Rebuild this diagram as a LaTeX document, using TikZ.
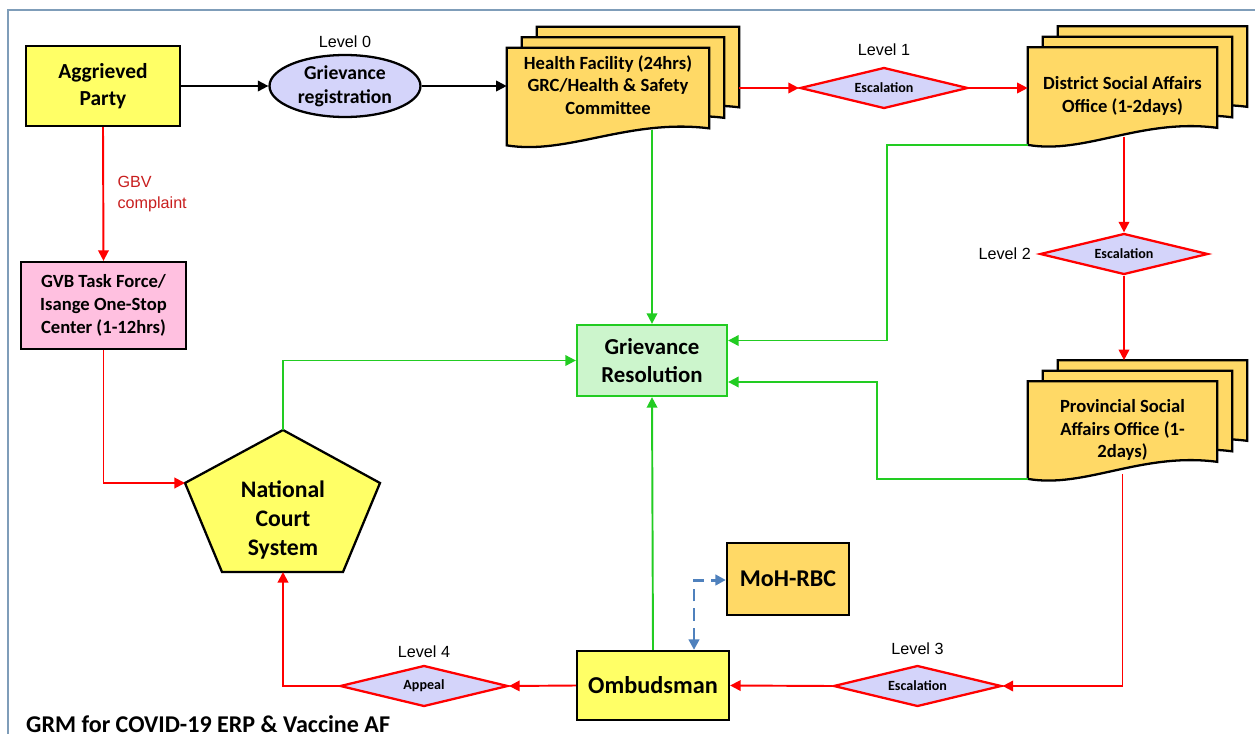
\documentclass[tikz,border=0pt]{standalone}
\usepackage{fontspec}
\setmainfont{Carlito}
\newfontfamily\arialfont{Liberation Sans}
\usetikzlibrary{calc,shapes.geometric,arrows.meta,backgrounds}

\definecolor{ylw}{HTML}{FFFF66}
\definecolor{docorange}{HTML}{FFD966}
\definecolor{lav}{HTML}{D4D4FA}
\definecolor{pnk}{HTML}{FFC0E0}
\definecolor{resfill}{HTML}{CCF5CC}
\definecolor{grn}{HTML}{22CC22}
\definecolor{gbvred}{HTML}{C81E1E}
\definecolor{dashblue}{HTML}{4F81BD}
\definecolor{framecol}{HTML}{7F9DB9}

\tikzset{
  nodeline/.style={draw=black, line width=1.3pt},
  ybox/.style={nodeline, fill=ylw, align=center, inner sep=0pt, font=\bfseries\fontsize{12.2}{15.3}\selectfont},
  pbox/.style={nodeline, fill=pnk, align=center, inner sep=0pt, minimum width=3.3cm, minimum height=1.74cm, font=\bfseries\fontsize{10.6}{13}\selectfont},
  obox/.style={nodeline, fill=docorange, align=center, inner sep=0pt, minimum width=2.44cm, minimum height=1.44cm, font=\bfseries\fontsize{13.7}{16}\selectfont},
  resbox/.style={draw=grn, line width=1.3pt, fill=resfill, align=center, inner sep=0pt, minimum width=3cm, minimum height=1.42cm, font=\bfseries\fontsize{13}{16}\selectfont},
  regell/.style={nodeline, ellipse, fill=lav, align=center, inner sep=0pt, minimum width=3.02cm, minimum height=1.24cm, font=\bfseries\fontsize{11.2}{13.5}\selectfont},
  esc/.style={diamond, aspect=4, draw=red, line width=1.3pt, fill=lav, inner sep=0pt, minimum width=3.36cm, minimum height=0.82cm, font=\bfseries\fontsize{8}{9}\selectfont},
  docnode/.style={inner sep=0pt, minimum height=1.94cm},
  doctext/.style={align=center, inner sep=0pt, font=\bfseries\fontsize{10.6}{13}\selectfont},
  docpage/.style={nodeline, fill=docorange},
  lvl/.style={font=\arialfont\fontsize{9.2}{12}\selectfont},
  kline/.style={->, draw=black, line width=1.1pt},
  rline/.style={->, draw=red, line width=1.1pt},
  gline/.style={->, draw=grn, line width=1.1pt},
  bline/.style={<->, draw=dashblue, line width=1.7pt, dash pattern=on 7pt off 4pt},
}

% one wavy sheet behind a document node
\newcommand{\docpage}[3]{%
  \draw[docpage] ($(#1.north west)+(#2,#3)$) -- ($(#1.north east)+(#2,#3)$)
    -- ($(#1.south east)+(#2,#3-17)$)
    .. controls ($(#1.south west)!0.6!(#1.south east)+(#2,#3-27)$)
    and ($(#1.south west)!0.3!(#1.south east)+(#2,#3+10)$)
    .. ($(#1.south west)+(#2,#3)$) -- cycle;}
\newcommand{\docstack}[1]{%
  \begin{scope}[on background layer]
    \foreach \dx/\dy in {30/-21,15/-10.5,0/0} {\docpage{#1}{\dx}{\dy}}
  \end{scope}}

\begin{document}
\begin{tikzpicture}[x=0.02cm, y=-0.02cm, >={Triangle[length=6pt,width=6pt]}]
  \useasboundingbox (0,0) rectangle (1255,734);
  \draw[framecol, line width=1pt] (8,740) -- (8,10) -- (1260,10);

  % top row
  \node[ybox, minimum width=3.08cm, minimum height=1.6cm] (ap) at (103,86) {Aggrieved\\Party};
  \node[regell] (reg) at (345,86) {Grievance\\registration};
  \node[lvl] (lvl0) at (345,42) {Level 0};
  \node[docnode, minimum width=4.04cm] (hf) at (608,96.5) {};
  \docstack{hf}
  \node[doctext] (hftext) at (608,85) {Health Facility (24hrs)\\GRC/Health \& Safety\\Committee};
  \node[esc] (l1) at (884,88) {Escalation};
  \node[lvl] (lvl1) at (884,50) {Level 1};
  \node[docnode, doctext, minimum width=3.78cm] (dso) at (1122.5,96) {District Social Affairs\\Office (1-2days)};
  \docstack{dso}

  % right column
  \node[esc] (l2) at (1124,254) {Escalation};
  \node[lvl, anchor=east] (lvl2) at (1037,254) {Level 2};
  \node[docnode, doctext, minimum width=3.78cm] (pso) at (1122.5,430) {Provincial Social\\Affairs Office (1-\\2days)};
  \docstack{pso}

  % middle and left
  \node[pbox] (gvb) at (103.5,305.5) {GVB Task Force/\\Isange One-Stop\\Center (1-12hrs)};
  \node[resbox] (res) at (652,360.5) {Grievance\\Resolution};
  \coordinate (ncs-t) at (283,430);
  \coordinate (ncs-r) at (380,483);
  \coordinate (ncs-br) at (343,572);
  \coordinate (ncs-b) at (283,572);
  \coordinate (ncs-bl) at (222,572);
  \coordinate (ncs-l) at (185,483);
  \draw[nodeline, fill=ylw] (ncs-t) -- (ncs-r) -- (ncs-br) -- (ncs-bl) -- (ncs-l) -- cycle;
  \node[align=center, font=\bfseries\fontsize{13.5}{16.4}\selectfont] (ncs) at (283,520) {National\\Court\\System};

  % bottom row
  \node[obox] (moh) at (788,579) {MoH-RBC};
  \node[ybox, minimum width=3.04cm, minimum height=1.38cm, font=\bfseries\fontsize{13.8}{16}\selectfont] (omb) at (653,685.5) {Ombudsman};
  \node[esc] (l3) at (917.5,686) {Escalation};
  \node[lvl] (lvl3) at (917.5,649) {Level 3};
  \node[esc] (l4) at (424,686) {Appeal};
  \node[lvl] (lvl4) at (424,652) {Level 4};
  \node[anchor=base west, font=\bfseries\fontsize{13.7}{16}\selectfont] (title) at (20,732) {GRM for COVID-19 ERP \& Vaccine AF};

  % connectors
  \draw[kline] (ap) -- (reg);
  \draw[kline] (reg.east) -- (hf.west |- reg.east);
  \draw[rline] ([xshift=0.6cm]hf.east |- l1.west) -- (l1.west);
  \draw[rline] (l1.east) -- (dso.west |- l1.east);
  \draw[gline] ([yshift=0.3cm]res.north |- hf.south) -- (res.north);
  \draw[gline] (dso.south west) -- ++(-141,0) |- ([yshift=0.4cm]res.east);
  \draw[rline] ([yshift=0.16cm]l2.north |- dso.south) -- (l2.north);
  \draw[rline] (l2.south) -- ([yshift=0.42cm]l2.south |- pso.north);
  \draw[gline] (pso.south west) -- ++(-151,0) |- ([yshift=-0.43cm]res.east);
  \draw[rline] ([yshift=0.1cm]pso.south) |- (l3.east);
  \draw[rline] (l3.west) -- (omb.east);
  \draw[rline] (omb.west) -- (l4.east);
  \draw[rline] (l4.west) -| (ncs-b);
  \draw[gline] (omb.north) -- (res.south);
  \draw[gline] (ncs-t) |- (res.west);
  \draw[rline] (ap.south) -- (gvb.north) node[midway, right=0.15cm, align=left, text=gbvred, lvl] {GBV\\complaint};
  \draw[rline] (gvb.south) |- (ncs-l);
  \coordinate (bend) at (694,580);
  \draw[bline] (omb.north -| bend) -- (bend) -- (moh.west |- bend);
\end{tikzpicture}
\end{document}
